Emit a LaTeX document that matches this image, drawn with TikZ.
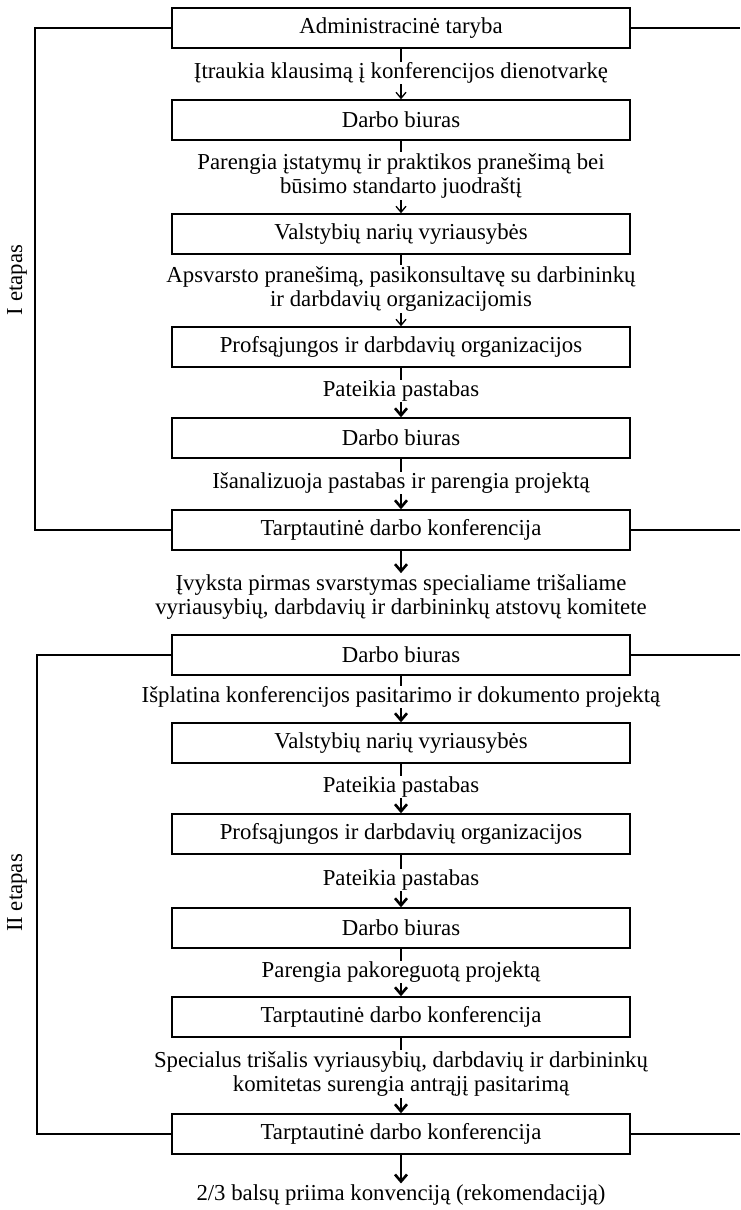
\documentclass[tikz,border=0pt]{standalone}
\usepackage{fontspec}
\setmainfont{Liberation Serif}
\usetikzlibrary{arrows.meta}
\tikzset{
	txt/.style={font=\fontsize{22.8}{24.5}\selectfont},
	box/.style={txt, draw, line width=1.5pt, minimum width=458pt, minimum height=40pt, inner sep=0pt},
	lbl/.style={txt, fill=white, inner sep=1pt, align=center},
	thinarr/.style={-{Straight Barb[length=6pt,width=10pt]}, line width=1.3pt},
	thickarr/.style={-{Straight Barb[length=7pt,width=12pt]}, line width=2.6pt},
	frame/.style={line width=1.4pt},
}
\begin{document}
\begin{tikzpicture}[x=1pt, y=-1pt]
	\useasboundingbox (0,0) rectangle (740,1210);
	\coordinate (lxa) at (35,0);
	\coordinate (lxb) at (37,0);
	\coordinate (rx) at (740,0);

	% I etapas
	\node[box] (admin) at (401, 28) {Administracinė taryba};
	\node[box] (biurasA) at (401, 120) {Darbo biuras};
	\node[box] (valstA) at (401, 234) {Valstybių narių vyriausybės};
	\node[box] (profsA) at (401, 347) {Profsąjungos ir darbdavių organizacijos};
	\node[box] (biurasB) at (401, 438) {Darbo biuras};
	\node[box] (konfA) at (401, 530) {Tarptautinė darbo konferencija};

	\draw[thinarr] (admin) -- (biurasA);
	\draw[thinarr] (biurasA) -- (valstA);
	\draw[thinarr] (valstA) -- (profsA);
	\draw[thickarr] (profsA) -- (biurasB);
	\draw[thickarr] (biurasB) -- (konfA);

	\node[lbl] (itraukia) at (401, 73) {Įtraukia klausimą į konferencijos dienotvarkę};
	\node[lbl] (parengia) at (401, 176) {Parengia įstatymų ir praktikos pranešimą bei\\būsimo standarto juodraštį};
	\node[lbl] (apsvarsto) at (401, 289) {Apsvarsto pranešimą, pasikonsultavę su darbininkų\\ir darbdavių organizacijomis};
	\node[lbl] (pastabosA) at (401, 391) {Pateikia pastabas};
	\node[lbl] (analizuoja) at (401, 483) {Išanalizuoja pastabas ir parengia projektą};

	\draw[frame] (admin.west) -- (admin.west -| lxa) -- (konfA.west -| lxa) -- (konfA.west);
	\draw[frame] (admin.east) -- (admin.east -| rx);
	\draw[frame] (konfA.east) -- (konfA.east -| rx);
	\node[txt, rotate=90] (etapasA) at (17, 280) {I etapas};

	% tarp etapu
	\node[txt, align=center, inner sep=1pt] (ivyksta) at (401, 597) {Įvyksta pirmas svarstymas specialiame trišaliame\\vyriausybių, darbdavių ir darbininkų atstovų komitete};
	\draw[thickarr] (konfA) -- (ivyksta);

	% II etapas
	\node[box] (biurasC) at (401, 655) {Darbo biuras};
	\node[box] (valstB) at (401, 743) {Valstybių narių vyriausybės};
	\node[box] (profsB) at (401, 834) {Profsąjungos ir darbdavių organizacijos};
	\node[box] (biurasD) at (401, 928) {Darbo biuras};
	\node[box] (konfB) at (401, 1017) {Tarptautinė darbo konferencija};
	\node[box] (konfC) at (401, 1134) {Tarptautinė darbo konferencija};

	\draw[thickarr] (biurasC) -- (valstB);
	\draw[thickarr] (valstB) -- (profsB);
	\draw[thickarr] (profsB) -- (biurasD);
	\draw[thickarr] (biurasD) -- (konfB);
	\draw[thickarr] (konfB) -- (konfC);

	\node[lbl] (isplatina) at (401, 697) {Išplatina konferencijos pasitarimo ir dokumento projektą};
	\node[lbl] (pastabosB) at (401, 787) {Pateikia pastabas};
	\node[lbl] (pastabosC) at (401, 880) {Pateikia pastabas};
	\node[lbl] (pakoreguota) at (401, 972) {Parengia pakoreguotą projektą};
	\node[lbl] (specialus) at (401, 1074) {Specialus trišalis vyriausybių, darbdavių ir darbininkų\\komitetas surengia antrąjį pasitarimą};

	\draw[frame] (biurasC.west) -- (biurasC.west -| lxb) -- (konfC.west -| lxb) -- (konfC.west);
	\draw[frame] (biurasC.east) -- (biurasC.east -| rx);
	\draw[frame] (konfC.east) -- (konfC.east -| rx);
	\node[txt, rotate=90] (etapasB) at (17, 893) {II etapas};

	\node[txt, inner sep=1pt] (priima) at (401, 1195) {2/3 balsų priima konvenciją (rekomendaciją)};
	\draw[thickarr] (konfC) -- (priima);
\end{tikzpicture}
\end{document}
